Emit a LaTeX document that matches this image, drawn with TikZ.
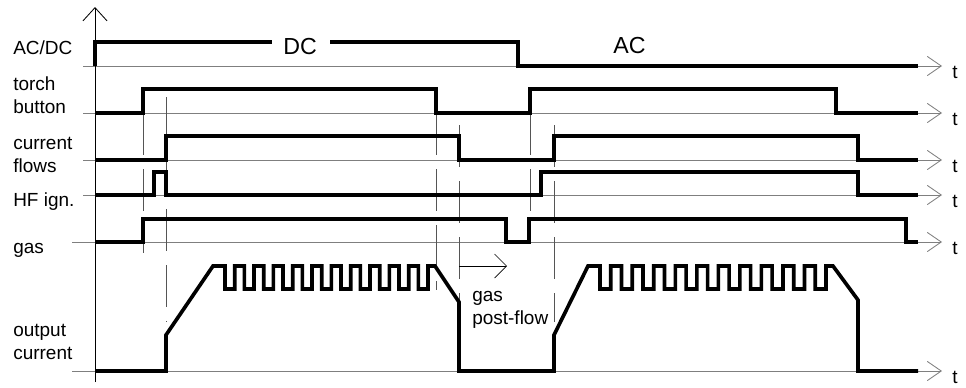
\documentclass[tikz,border=0pt]{standalone}
\usepackage{fontspec}
\setmainfont{Liberation Sans}
\usetikzlibrary{arrows.meta}
\definecolor{grau}{HTML}{7F7F7F}
\definecolor{dgrau}{HTML}{555555}
\tikzset{
  sig/.style={black,line width=2.6pt},
  zeit/.style={-{Straight Barb[length=3.5mm,width=4.8mm]},grau,line width=0.6pt},
  achse/.style={-{Straight Barb[length=3.3mm,width=6mm]},black,line width=0.6pt},
  pfeil/.style={-{Straight Barb[length=3mm,width=6mm]},black,line width=0.5pt},
  hilf/.style={dgrau,line width=0.5pt,dash pattern=on 10.5mm off 3.5mm},
  lbl/.style={anchor=base west,inner sep=0pt,align=left,font=\fontsize{13.5}{16}\selectfont},
  modus/.style={lbl,font=\fontsize{16.5}{18}\selectfont},
}

\begin{document}
\begin{tikzpicture}[x=0.25mm,y=-0.25mm]
  \useasboundingbox (0,0) rectangle (966,387);
  \foreach \y/\x [count=\i] in {66/83,113/83,160/83,195/83,242/72,371/72} {
    \draw[zeit] (\x,\y) -- (942,\y);
    \node[lbl] (t\i) at (952,\y+12) {t};
  }
  \draw[achse] (95,382) -- (95,7);
  \draw[hilf] (143,113) -- (143,253);
  \draw[hilf] (166,97) -- (166,322);
  \draw[hilf] (436,113) -- (436,290);
  \draw[hilf] (459,125) -- (459,302);
  \draw[hilf] (530,113) -- (530,242);
  \draw[hilf] (554,125) -- (554,322);
  \node[lbl] (acdc) at (13,54) {AC/DC};
  \node[lbl] (torch) at (13,113) {torch\\button};
  \node[lbl] (flows) at (13,172) {current\\flows};
  \node[lbl] (hf) at (13,206) {HF ign.};
  \node[lbl] (gas) at (13,253) {gas};
  \node[lbl] (out) at (13,359) {output\\current};
  \node[modus] (dc) at (283,54) {DC};
  \node[modus] (ac) at (613,53) {AC};
  \draw[sig] (95,66) -- (95,42) -- (272,42);
  \draw[sig] (330,42) -- (518,42) -- (518,66) -- (918,66);
  \draw[sig] (95,113) -- (143,113) -- (143,89) -- (436,89) -- (436,113) -- (530,113)
    -- (530,89) -- (836,89) -- (836,113) -- (918,113);
  \draw[sig] (95,160) -- (166,160) -- (166,136) -- (459,136) -- (459,160) -- (554,160)
    -- (554,136) -- (858,136) -- (858,160) -- (918,160);
  \draw[sig] (95,195) -- (154,195) -- (154,172) -- (166,172) -- (166,195) -- (541,195)
    -- (541,172) -- (858,172) -- (858,195) -- (918,195);
  \draw[sig] (95,242) -- (143,242) -- (143,219) -- (506,219) -- (506,242) -- (529,242)
    -- (529,219) -- (906,219) -- (906,242) -- (918,242);
  \draw[sig] (95,371) -- (166,371) -- (166,335) -- (213,266) -- (225,266)
    \foreach \k in {1,...,10} { -- ++(0,23) -- ++(9.67,0) -- ++(0,-23) -- ++(9.67,0) }
    -- ++(0,23) -- ++(9.67,0) -- ++(0,-23) -- (435,266) -- (459,302) -- (459,371)
    -- (554,371) -- (554,335) -- (588,266) -- (600,266)
    \foreach \k in {1,...,10} { -- ++(0,23) -- ++(10.76,0) -- ++(0,-23) -- ++(10.76,0) }
    -- ++(0,23) -- ++(10.76,0) -- ++(0,-23) -- (833,266) -- (858,300) -- (858,371) -- (918,371);
  \coordinate (pf0) at (459,266);
  \coordinate (pf1) at (507,266);
  \draw[pfeil] (pf0) -- (pf1);
  \node[lbl] (post) at (472,324) {gas\\post-flow};
\end{tikzpicture}
\end{document}
